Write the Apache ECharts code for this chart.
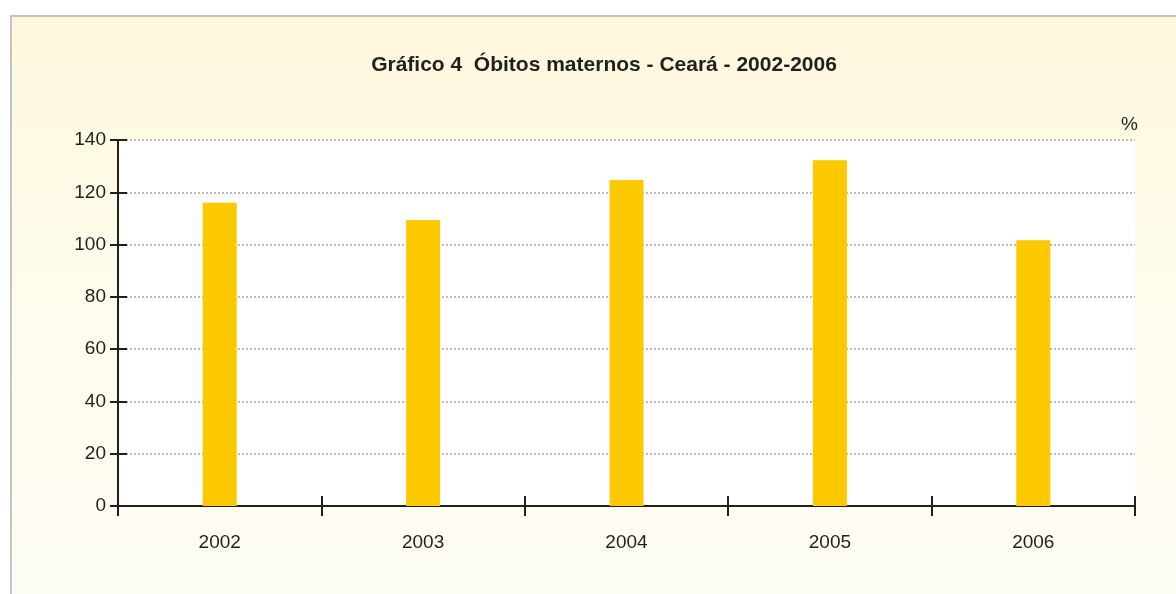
<!DOCTYPE html>
<html>
<head>
<meta charset="utf-8">
<script src="https://cdn.jsdelivr.net/npm/echarts@6/dist/echarts.min.js"></script>
<style>
    html, body { margin: 0; padding: 0; background: #ffffff; }
    #frame {
        position: absolute; left: 10px; top: 15px; width: 1180px; height: 600px;
        border-left: 2px solid #c4c4c4; border-top: 2px solid #c4c4c4;
        background: linear-gradient(180deg, #fdf8dc 0%, #fefbea 40%, #fefdf6 100%);
    }
    #plotbg {
        position: absolute; left: 120px; top: 140px; width: 1015px; height: 366px;
        background: #ffffff;
    }
    #chart { position: absolute; left: 0; top: 0; width: 1176px; height: 594px; }
</style>
</head>
<body>
<div id="frame"></div>
<div id="plotbg"></div>
<div id="chart"></div>
<script>
    const years = ['2002', '2003', '2004', '2005', '2006'];
    const obitos = [116.0, 109.4, 124.7, 132.3, 101.7];
    const yTicks = [0, 20, 40, 60, 80, 100, 120, 140];

    const fontName = "'Liberation Sans Narrow', 'Arial Narrow', 'Liberation Sans', Arial, sans-serif";

    let chartDom = document.getElementById('chart');
    let myChart = echarts.init(chartDom);

    let option = {
        backgroundColor: 'transparent',
        title: {
            text: 'Gráfico 4  Óbitos maternos - Ceará - 2002-2006',
            left: 599,
            textAlign: 'center',
            top: 50,
            textStyle: { fontFamily: fontName, fontSize: 21, fontWeight: 'bold', color: '#231f20' }
        },
        grid: { left: 118, right: 41, top: 140, bottom: 88, containLabel: false },
        xAxis: [
            {
                type: 'category',
                data: years,
                boundaryGap: true,
                axisLine: { lineStyle: { color: '#231f20', width: 2 } },
                axisTick: { show: true, length: 10, lineStyle: { color: '#231f20', width: 2 } },
                axisLabel: { margin: 27, fontFamily: fontName, fontSize: 19, color: '#231f20' },
                splitLine: { show: false }
            },
            {
                type: 'category',
                data: years,
                position: 'bottom',
                boundaryGap: true,
                axisLine: { show: false },
                axisTick: { show: true, inside: true, length: 10, lineStyle: { color: '#231f20', width: 2 } },
                axisLabel: { show: false }
            }
        ],
        yAxis: [
            {
                type: 'value',
                min: 0,
                max: 140,
                interval: 20,
                name: '%',
                nameLocation: 'end',
                nameGap: 6,
                nameTextStyle: { fontFamily: fontName, fontSize: 19, color: '#231f20', align: 'right', padding: [0, -1020, 0, 0] },
                axisLine: { show: true, lineStyle: { color: '#231f20', width: 2 } },
                axisTick: { show: true, length: 8, lineStyle: { color: '#231f20', width: 2 } },
                axisLabel: {
                    margin: 12, fontFamily: fontName, fontSize: 19, color: '#231f20',
                    formatter: function (v) { return yTicks.indexOf(v) >= 0 ? String(v) : ''; }
                },
                splitLine: { show: true, lineStyle: { color: '#a7a7a7', type: [2, 2], width: 1.5 } }
            },
            {
                type: 'value',
                min: 0,
                max: 140,
                interval: 20,
                position: 'left',
                axisLine: { show: false },
                axisTick: { show: true, inside: true, length: 9, lineStyle: { color: '#231f20', width: 2 } },
                axisLabel: { show: false },
                splitLine: { show: false }
            }
        ],
        series: [
            {
                type: 'bar',
                data: obitos,
                barWidth: 34,
                itemStyle: { color: '#fcc900' }
            }
        ]
    };

    myChart.setOption(option);
</script>
</body>
</html>
